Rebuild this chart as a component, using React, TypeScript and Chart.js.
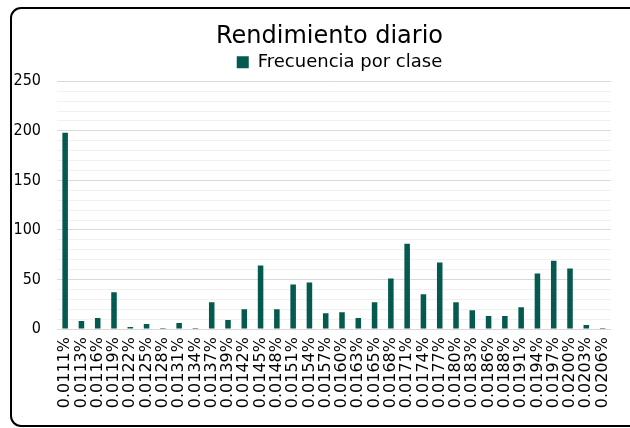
import React, { useEffect, useRef } from "react";
import { Chart, registerables } from "chart.js";

Chart.register(...registerables);

const categories: string[] = [
  "0.0111%", "0.0113%", "0.0116%", "0.0119%", "0.0122%", "0.0125%", "0.0128%",
  "0.0131%", "0.0134%", "0.0137%", "0.0139%", "0.0142%", "0.0145%", "0.0148%",
  "0.0151%", "0.0154%", "0.0157%", "0.0160%", "0.0163%", "0.0165%", "0.0168%",
  "0.0171%", "0.0174%", "0.0177%", "0.0180%", "0.0183%", "0.0186%", "0.0188%",
  "0.0191%", "0.0194%", "0.0197%", "0.0200%", "0.0203%", "0.0206%",
];

const frecuencia: number[] = [
  198, 8, 11, 37, 2, 5, 1, 6, 1, 27, 9, 20, 64, 20, 45, 47, 16, 17, 11, 27, 51,
  86, 35, 67, 27, 19, 13, 13, 22, 56, 69, 61, 4, 1,
];

const titleText = "Rendimiento diario";
const seriesName = "Frecuencia por clase";
const yMax = 250;
const yMajorStep = 50;
const yMinorStep = 10;

const FONT = "'DejaVu Sans', sans-serif";
const FONT_COND = "'DejaVu Sans Condensed', 'DejaVu Sans', sans-serif";

export default function App() {
  const ref = useRef<HTMLCanvasElement | null>(null);

  useEffect(() => {
    if (!ref.current) return;
    const frame = {
      id: "frame",
      beforeDraw(chart: any) {
        const c = chart.ctx;
        c.save();
        c.strokeStyle = "#000";
        c.lineWidth = 2;
        c.beginPath();
        c.moveTo(700, 8);
        c.lineTo(21, 8);
        c.arcTo(11, 8, 11, 18, 10);
        c.lineTo(11, 416);
        c.arcTo(11, 426, 21, 426, 10);
        c.lineTo(700, 426);
        c.stroke();
        c.restore();
      },
    };
    const shiftHeader = {
      id: "shiftHeader",
      afterLayout(chart: any) {
        const t = chart.titleBlock;
        if (t) {
          t.left += 22;
          t.right += 22;
        }
        const lg = chart.legend;
        if (lg) {
          lg.left += 32;
          lg.right += 32;
        }
      },
    };
    const chart = new Chart(ref.current, {
      type: "bar",
      data: {
        labels: categories,
        datasets: [
          {
            label: seriesName,
            data: frecuencia,
            backgroundColor: "#045A4F",
            borderWidth: 0,
            barPercentage: 0.34,
            categoryPercentage: 1,
          },
        ],
      },
      options: {
        animation: false,
        responsive: false,
        devicePixelRatio: 1,
        layout: { padding: { top: 0, right: 15, bottom: 0, left: 0 } },
        plugins: {
          title: {
            display: true,
            text: titleText,
            color: "#000",
            font: { family: FONT, size: 24, weight: "normal", lineHeight: 1.2 },
            padding: { top: 22, bottom: 0 },
          },
          legend: {
            display: true,
            position: "top",
            labels: {
              color: "#000",
              font: { family: FONT, size: 18 },
              boxWidth: 12,
              boxHeight: 12,
              padding: 2.5,
            },
          },
          tooltip: { enabled: false },
        },
        scales: {
          x: {
            grid: { display: false, drawTicks: false },
            border: { display: true, color: "#d9d9d9", width: 1 },
            ticks: {
              color: "#000",
              font: { family: FONT, size: 16 },
              minRotation: 90,
              maxRotation: 90,
              autoSkip: false,
              padding: 8,
            },
            afterFit(scale: any) {
              scale.height = 99;
            },
          },
          y: {
            min: 0,
            max: yMax,
            grid: {
              drawTicks: false,
              color: (ctx: any) =>
                ctx.tick && ctx.tick.value % yMajorStep === 0 ? "#d9d9d9" : "#f0f0f0",
              lineWidth: 1,
            },
            border: { display: false },
            ticks: {
              stepSize: yMinorStep,
              autoSkip: false,
              color: "#000",
              font: { family: FONT_COND, size: 16 },
              padding: 16,
              callback: (v: any) => (Number(v) % yMajorStep === 0 ? String(v) : ""),
            },
            afterFit(scale: any) {
              scale.width = 57;
            },
          },
        },
      },
      plugins: [frame, shiftHeader],
    });
    return () => chart.destroy();
  }, []);

  return (
    <div
      style={{
        position: "fixed",
        left: 0,
        top: 0,
        width: 630,
        height: 428,
        overflow: "hidden",
        background: "#fff",
      }}
    >
      <canvas
        ref={ref}
        width={630}
        height={428}
        style={{ position: "absolute", left: 0, top: 0, width: 630, height: 428 }}
      />
    </div>
  );
}
